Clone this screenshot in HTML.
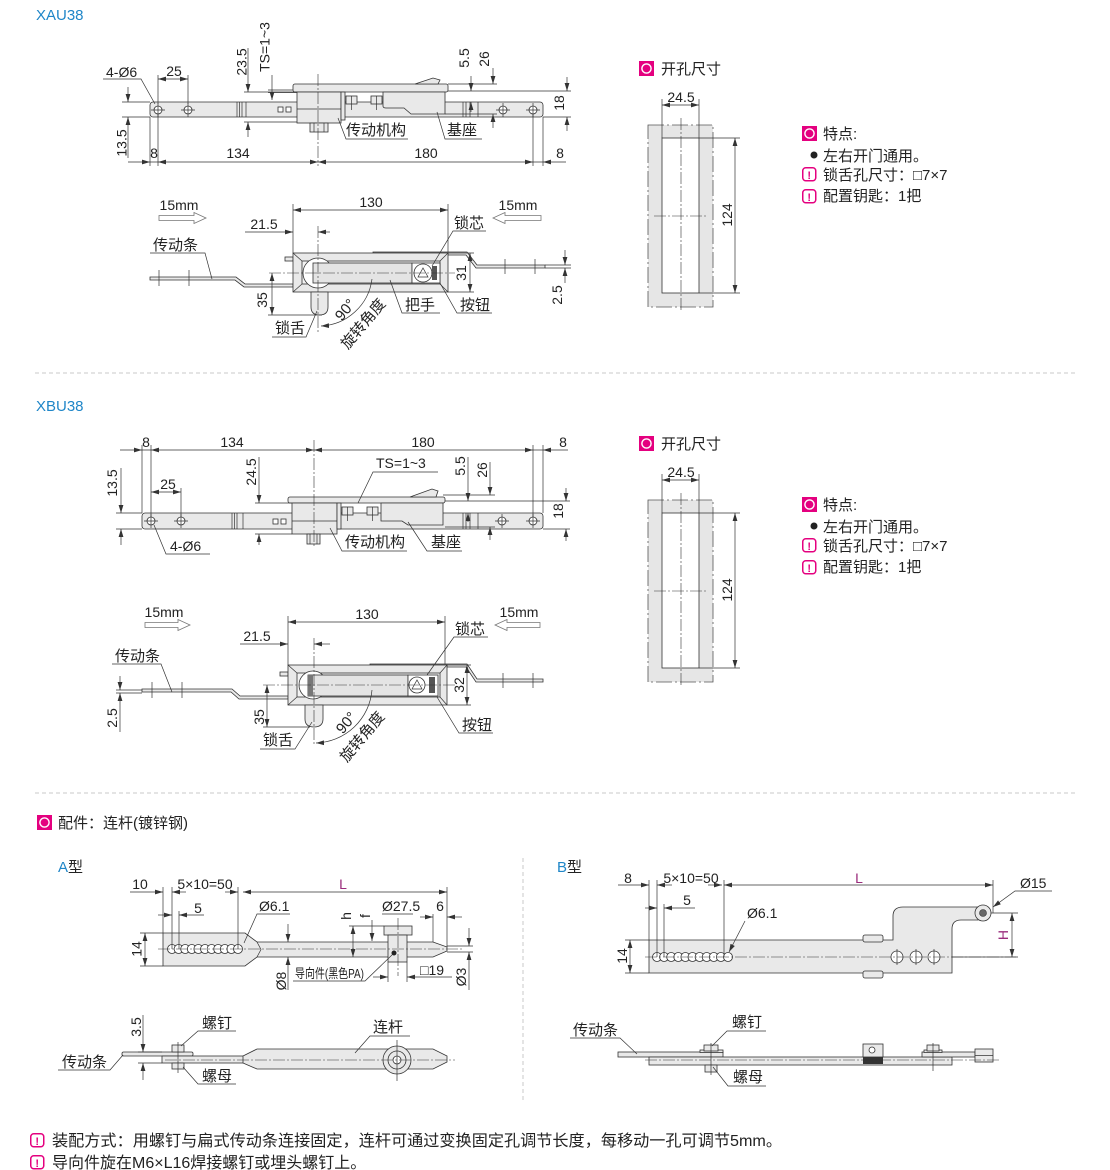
<!DOCTYPE html>
<html><head><meta charset="utf-8">
<style>
html,body{margin:0;padding:0;background:#fff}
svg{display:block}
text{font-family:"Liberation Sans","Noto Sans CJK SC",sans-serif;fill:#222;font-size:14px}
.z{font-size:15px}
.m{text-anchor:middle}
.l{stroke:#333;stroke-width:.7;fill:none}
.o{stroke:#333;stroke-width:.8;fill:#e9e9e9}
.w{stroke:#333;stroke-width:.8;fill:#fff}
.c{stroke:#333;stroke-width:.6;fill:none;stroke-dasharray:12 2 2 2}
.a{marker-end:url(#ar)}
.b{marker-start:url(#ar);marker-end:url(#ar)}
.sep{stroke:#c8c8c8;stroke-width:1;fill:none;stroke-dasharray:4 3}
.pl{fill:#9a2c7c}
.ha{fill:#fff;stroke:#777;stroke-width:.8}
</style></head><body>
<svg width="1110" height="1170" viewBox="0 0 1110 1170" xmlns="http://www.w3.org/2000/svg">
<defs>
<marker id="ar" markerUnits="userSpaceOnUse" viewBox="0 0 8 6" markerWidth="8" markerHeight="6" refX="8" refY="3" orient="auto-start-reverse"><path d="M0,0.6L8,3L0,5.4z" fill="#333"/></marker>
</defs>

<!-- ===================== SECTION 1 : XAU38 ===================== -->
<text x="36" y="20" style="font-size:15px;fill:#1f86c8">XAU38</text>

<!-- top view -->
<rect x="150" y="102" width="393" height="15" rx="3" class="o"/>
<path class="l" d="M237,102v15M239.5,102v15M242,102v15M246,102v15M463,102v15M466,102v15M470,102v15M478,102v15"/>
<rect x="278" y="107" width="5" height="5" class="w"/><rect x="286" y="107" width="5" height="5" class="w"/>
<circle cx="158" cy="110" r="4" class="w"/><path class="l" d="M151,110h14M158,103v14"/>
<circle cx="188" cy="110" r="4" class="w"/><path class="l" d="M181,110h14M188,103v14"/>
<circle cx="503" cy="110" r="4" class="w"/><path class="l" d="M496,110h14M503,103v14"/>
<circle cx="533" cy="110" r="4" class="w"/><path class="l" d="M526,110h14M533,103v14"/>
<path class="l" d="M268,90H297M268,92.5H297"/>
<rect x="293" y="84" width="155" height="8" rx="2" class="o"/>
<path class="o" d="M415,84L433,78L440,80L438,84Z"/>
<path class="o" d="M383,92V106Q383,108 386,108H404L411,114H445V92Z"/>
<rect x="297" y="92" width="44" height="31" class="o"/>
<path class="l" d="M297,109H341"/>
<rect x="341" y="92" width="4" height="28" class="o"/>
<rect x="346" y="96" width="11" height="8" class="o"/><rect x="371" y="96" width="11" height="8" class="o"/>
<path class="l" d="M351.5,96v14M376.5,96v14"/>
<rect x="310" y="123" width="18" height="9" class="o"/>
<path class="l" d="M314,123v9M324,123v9"/>
<path class="c" d="M318,74V166"/>
<!-- dims -->
<path class="l" d="M150,117V166M158,114V166M533,114V166M543,117V166"/>
<path class="l a" d="M128,162H150"/>
<path class="l b" d="M158,162H318"/>
<path class="l b" d="M318,162H533"/>
<path class="l a" d="M566,162H543"/>
<path class="l" d="M150,162H158M533,162H543"/>
<text class="m" x="154" y="158">8</text>
<text class="m" x="238" y="158">134</text>
<text class="m" x="426" y="158">180</text>
<text class="m" x="560" y="158">8</text>
<path class="l" d="M122,102H150M122,117H150"/>
<path class="l a" d="M128,87V102"/><path class="l a" d="M128,158V117"/>
<text class="m" transform="translate(126.5,143) rotate(-90)">13.5</text>
<text x="106" y="77">4-Ø6</text>
<path class="l" d="M103,79H141L155,104"/>
<text class="m" x="174" y="76">25</text>
<path class="l" d="M158,75V104M188,75V104"/>
<path class="l b" d="M158,79H188"/>
<path class="l" d="M244,92H297M244,122H297"/>
<path class="l a" d="M248,48V92"/><path class="l a" d="M248,137V122"/>
<text class="m" transform="translate(246.5,62) rotate(-90)">23.5</text>
<path class="l a" d="M272,75V100"/>
<text class="m" transform="translate(269.5,47) rotate(-90)">TS=1~3</text>
<path class="l" d="M448,84H497M445,114H497M448,91H571M543,117H571"/>
<path class="l a" d="M471,76V91"/><path class="l a" d="M471,112V102"/>
<text class="m" transform="translate(469,58) rotate(-90)">5.5</text>
<path class="l a" d="M493,68V84"/><path class="l a" d="M493,128V114"/>
<text class="m" transform="translate(489,59) rotate(-90)">26</text>
<path class="l a" d="M567,77V91"/><path class="l a" d="M567,131V117"/>
<text class="m" transform="translate(564,103) rotate(-90)">18</text>
<text class="z" x="346" y="135">传动机构</text>
<path class="l" d="M338,118L346,139H408"/>
<text class="z" x="447" y="135">基座</text>
<path class="l" d="M437,112L445,139H482"/>

<!-- front view -->
<path d="M159,215.5H194V212.5L206,218L194,223.5V220.5H159Z" class="ha"/>
<path d="M541,215.5H505V212.5L493,218L505,223.5V220.5H541Z" class="ha"/>
<text class="m" x="179" y="210">15mm</text>
<text class="m" x="518" y="210">15mm</text>
<path class="l" d="M293,204V253M448,204V253"/>
<path class="l b" d="M293,210H448"/>
<text class="m" x="371" y="207">130</text>
<path class="l a" d="M245,232H293"/><path class="l a" d="M330,232H318"/>
<text class="m" x="264" y="229">21.5</text>
<path class="o" d="M150,277H236L245,284H293V287H244L235,280H150Z"/>
<path class="l" d="M159,270v16M189,270v16"/>
<rect x="285" y="257" width="8" height="4" class="o"/>
<path class="o" d="M373,252H467L477,265H545V268H476L466,255H448V253H373Z"/>
<path class="l" d="M505,259v15M535,259v15"/>
<rect x="293" y="253" width="155" height="39" class="o"/>
<rect x="302" y="261" width="138" height="23" fill="#f3f3f3" stroke="#333" stroke-width=".8"/>
<path class="l" d="M293,253L302,261M448,253L440,261M293,292L302,284M448,292L440,284"/>
<circle cx="318" cy="273" r="15" class="w"/>
<rect x="313" y="263" width="99" height="20" fill="#e4e4e4" stroke="#333" stroke-width=".8"/>
<rect x="412" y="263" width="28" height="20" class="w"/>
<circle cx="423" cy="273" r="9" class="w"/>
<path class="l" d="M418,277L423,268L428,277Z"/>
<rect x="432" y="266" width="5" height="14" fill="#555"/>
<path class="o" d="M311,292V307Q311,315 319.5,315Q328,315 328,307V292Z"/>
<path class="c" d="M269,273H455M318,226V332"/>
<path class="l" d="M448,253H474M448,292H474"/>
<path class="l b" d="M470,253V292"/>
<text class="m" transform="translate(466,273) rotate(-90)">31</text>
<path class="l" d="M268,315H322"/>
<path class="l b" d="M272,273V315"/>
<text class="m" transform="translate(267,300) rotate(-90)">35</text>
<path class="l" d="M545,265H571M545,268H571"/>
<path class="l a" d="M565,250V265"/><path class="l a" d="M565,283V268"/>
<text class="m" transform="translate(562,295) rotate(-90)">2.5</text>
<text class="z" x="153" y="250">传动条</text>
<path class="l" d="M150,253H205L212,279"/>
<text class="z" x="454" y="228">锁芯</text>
<path class="l" d="M486,231H453L432,266"/>
<text class="z" x="405" y="310">把手</text>
<path class="l" d="M390,280L402,313H440"/>
<text class="z" x="460" y="310">按钮</text>
<path class="l" d="M440,283L457,313H492"/>
<text class="z" x="275" y="333">锁舌</text>
<path class="l" d="M272,337H306L317,311"/>
<path class="l a" d="M372,279A54,54 0 0,1 321,326"/>
<text class="z m" transform="translate(349,313) rotate(-50)">90°</text>
<text class="z m" transform="translate(367,327) rotate(-50)">旋转角度</text>

<!-- cutout 1 -->
<g>
<rect x="639" y="61" width="15" height="15" fill="#e4007f"/><circle cx="646.5" cy="68.5" r="4.6" fill="none" stroke="#fff" stroke-width="1.4"/>
<text class="z" x="661" y="74">开孔尺寸</text>
<rect x="648" y="125" width="65" height="182" fill="#e6e6e6" stroke="#555" stroke-width=".8" stroke-dasharray="16 3 2 3"/>
<rect x="662" y="138" width="37" height="155" class="w"/>
<path class="c" d="M681,118V312M654,216H708"/>
<path class="l" d="M662,99V138M699,99V138"/>
<path class="l b" d="M662,105H699"/>
<text class="m" x="681" y="102">24.5</text>
<path class="l" d="M699,138H740M699,293H740"/>
<path class="l b" d="M735,138V293"/>
<text class="m" transform="translate(732,215) rotate(-90)">124</text>
</g>
<g>
<rect x="802" y="126" width="15" height="15" fill="#e4007f"/><circle cx="809.5" cy="133.5" r="4.6" fill="none" stroke="#fff" stroke-width="1.4"/>
<text class="z" x="823" y="139">特点:</text>
<circle cx="814" cy="155" r="3.5" fill="#222"/>
<text class="z" x="823" y="161">左右开门通用。</text>
<rect x="802.75" y="167.75" width="13" height="13" rx="3" fill="#fff" stroke="#e4007f" stroke-width="1.5"/>
<text x="809.25" y="179" class="m" style="font-size:11px;font-weight:bold;fill:#e4007f">!</text>
<text class="z" x="823" y="180">锁舌孔尺寸：□7×7</text>
<rect x="802.75" y="189.75" width="13" height="13" rx="3" fill="#fff" stroke="#e4007f" stroke-width="1.5"/>
<text x="809.25" y="201" class="m" style="font-size:11px;font-weight:bold;fill:#e4007f">!</text>
<text class="z" x="823" y="201">配置钥匙：1把</text>
</g>

<path class="sep" d="M35,373H1078"/>

<!-- ===================== SECTION 2 : XBU38 ===================== -->
<text x="36" y="411" style="font-size:15px;fill:#1f86c8">XBU38</text>

<!-- top view -->
<rect x="142" y="513" width="401" height="16" rx="3" class="o"/>
<path class="l" d="M232,513v16M234.5,513v16M237,513v16M243,513v16M463,513v16M466,513v16M470,513v16M478,513v16"/>
<rect x="273" y="519" width="5" height="5" class="w"/><rect x="281" y="519" width="5" height="5" class="w"/>
<circle cx="151" cy="521" r="4" class="w"/><path class="l" d="M144,521h14M151,514v14"/>
<circle cx="181" cy="521" r="4" class="w"/><path class="l" d="M174,521h14M181,514v14"/>
<circle cx="502" cy="521" r="4" class="w"/><path class="l" d="M495,521h14M502,514v14"/>
<circle cx="533" cy="521" r="4" class="w"/><path class="l" d="M526,521h14M533,514v14"/>
<rect x="288" y="497" width="157" height="6" rx="2" class="o"/>
<path class="o" d="M410,497L432,489L438,491L436,497Z"/>
<path class="o" d="M381,503V521H402L408,525H443V503Z"/>
<rect x="292" y="503" width="45" height="31" class="o"/>
<path class="l" d="M292,521H337"/>
<rect x="337" y="503" width="4" height="26" class="o"/>
<rect x="342" y="507" width="11" height="8" class="o"/><rect x="367" y="507" width="11" height="8" class="o"/>
<path class="l" d="M347.5,507v14M372.5,507v14"/>
<rect x="307" y="534" width="13" height="10" class="o"/>
<path class="l" d="M310,534v10M317,534v10"/>
<path class="c" d="M314,440V548"/>
<!-- dims -->
<path class="l" d="M142,445V513M151,445V517M533,445V517M543,445V513"/>
<path class="l a" d="M120,450H142"/>
<path class="l b" d="M151,450H314"/>
<path class="l b" d="M314,450H533"/>
<path class="l a" d="M568,450H543"/>
<path class="l" d="M142,450H151M533,450H543"/>
<text class="m" x="146" y="447">8</text>
<text class="m" x="232" y="447">134</text>
<text class="m" x="423" y="447">180</text>
<text class="m" x="563" y="447">8</text>
<path class="l" d="M116,513H142M116,529H142"/>
<path class="l a" d="M121,468V513"/><path class="l a" d="M121,545V529"/>
<text class="m" transform="translate(117,483) rotate(-90)">13.5</text>
<path class="l" d="M181,488V517"/>
<path class="l b" d="M151,492H181"/>
<text class="m" x="168" y="489">25</text>
<text x="170" y="551">4-Ø6</text>
<path class="l" d="M210,554H166L154,525"/>
<path class="l" d="M255,503H292M255,534H292"/>
<path class="l a" d="M259,457V503"/><path class="l a" d="M259,545V534"/>
<text class="m" transform="translate(256,472) rotate(-90)">24.5</text>
<text x="376" y="468">TS=1~3</text>
<path class="l" d="M438,472H373L358,503"/>
<path class="l" d="M443,495H495M445,527H495M445,501H570M543,529H570"/>
<path class="l a" d="M468,457V501"/><path class="l a" d="M468,522V513"/>
<text class="m" transform="translate(465,466) rotate(-90)">5.5</text>
<path class="l a" d="M490,462V495"/><path class="l a" d="M490,540V527"/>
<text class="m" transform="translate(487,470) rotate(-90)">26</text>
<path class="l a" d="M566,488V501"/><path class="l a" d="M566,541V529"/>
<text class="m" transform="translate(563,511) rotate(-90)">18</text>
<text class="z" x="345" y="547">传动机构</text>
<path class="l" d="M330,528L342,551H407"/>
<text class="z" x="431" y="547">基座</text>
<path class="l" d="M408,522L427,551H462"/>

<!-- front view -->
<path d="M145,622.5H178V619.5L190,625L178,630.5V627.5H145Z" class="ha"/>
<path d="M540,622.5H507V619.5L495,625L507,630.5V627.5H540Z" class="ha"/>
<text class="m" x="164" y="617">15mm</text>
<text class="m" x="519" y="617">15mm</text>
<path class="l" d="M288,616V665M445,616V665"/>
<path class="l b" d="M288,622H445"/>
<text class="m" x="367" y="619">130</text>
<path class="l a" d="M240,644H288"/><path class="l a" d="M330,644H314"/>
<text class="m" x="257" y="641">21.5</text>
<path class="o" d="M142,689H232L240,696H288V699H239L231,692H142Z"/>
<path class="l" d="M152,682v16M182,682v16"/>
<rect x="280" y="672" width="8" height="4" class="o"/>
<path class="o" d="M370,664H467L477,679H543V682H476L466,667H447V665H370Z"/>
<path class="l" d="M503,673v15M533,673v15"/>
<rect x="288" y="665" width="159" height="40" class="o"/>
<rect x="297" y="673" width="143" height="24" fill="#f3f3f3" stroke="#333" stroke-width=".8"/>
<path class="l" d="M288,665L297,673M447,665L440,673M288,705L297,697M447,705L440,697"/>
<circle cx="313" cy="685" r="14" class="w"/>
<rect x="308" y="675" width="100" height="21" fill="#e4e4e4" stroke="#333" stroke-width=".8"/>
<rect x="308" y="675" width="5" height="21" fill="#777"/>
<rect x="408" y="675" width="30" height="21" class="w"/>
<circle cx="417" cy="685" r="8" class="w"/>
<path class="l" d="M412,689L417,680L422,689Z"/>
<rect x="429" y="677" width="6" height="16" fill="#555"/>
<path class="o" d="M305,705V719Q305,727 314,727Q323,727 323,719V705Z"/>
<path class="c" d="M263,685H455M314,638V745"/>
<path class="l" d="M447,665H471M447,705H471"/>
<path class="l b" d="M467,665V705"/>
<text class="m" transform="translate(464,685) rotate(-90)">32</text>
<path class="l" d="M263,727H310"/>
<path class="l b" d="M267,685V727"/>
<text class="m" transform="translate(264,717) rotate(-90)">35</text>
<path class="l" d="M116,690H142M116,693H142"/>
<path class="l a" d="M120,676V690"/><path class="l a" d="M120,732V693"/>
<text class="m" transform="translate(117,718) rotate(-90)">2.5</text>
<text class="z" x="115" y="661">传动条</text>
<path class="l" d="M112,664H161L172,692"/>
<text class="z" x="455" y="634">锁芯</text>
<path class="l" d="M488,637H454L427,675"/>
<text class="z" x="462" y="730">按钮</text>
<path class="l" d="M437,697L459,733H493"/>
<text class="z" x="263" y="745">锁舌</text>
<path class="l" d="M260,749H295L312,722"/>
<path class="l a" d="M372,690A58,58 0 0,1 316,743"/>
<text class="z m" transform="translate(350,726) rotate(-50)">90°</text>
<text class="z m" transform="translate(366,740) rotate(-50)">旋转角度</text>

<!-- cutout 2 -->
<g transform="translate(0,375)">
<rect x="639" y="61" width="15" height="15" fill="#e4007f"/><circle cx="646.5" cy="68.5" r="4.6" fill="none" stroke="#fff" stroke-width="1.4"/>
<text class="z" x="661" y="74">开孔尺寸</text>
<rect x="648" y="125" width="65" height="182" fill="#e6e6e6" stroke="#555" stroke-width=".8" stroke-dasharray="16 3 2 3"/>
<rect x="662" y="138" width="37" height="155" class="w"/>
<path class="c" d="M681,118V312M654,216H708"/>
<path class="l" d="M662,99V138M699,99V138"/>
<path class="l b" d="M662,105H699"/>
<text class="m" x="681" y="102">24.5</text>
<path class="l" d="M699,138H740M699,293H740"/>
<path class="l b" d="M735,138V293"/>
<text class="m" transform="translate(732,215) rotate(-90)">124</text>
</g>
<g transform="translate(0,371)">
<rect x="802" y="126" width="15" height="15" fill="#e4007f"/><circle cx="809.5" cy="133.5" r="4.6" fill="none" stroke="#fff" stroke-width="1.4"/>
<text class="z" x="823" y="139">特点:</text>
<circle cx="814" cy="155" r="3.5" fill="#222"/>
<text class="z" x="823" y="161">左右开门通用。</text>
<rect x="802.75" y="167.75" width="13" height="13" rx="3" fill="#fff" stroke="#e4007f" stroke-width="1.5"/>
<text x="809.25" y="179" class="m" style="font-size:11px;font-weight:bold;fill:#e4007f">!</text>
<text class="z" x="823" y="180">锁舌孔尺寸：□7×7</text>
<rect x="802.75" y="189.75" width="13" height="13" rx="3" fill="#fff" stroke="#e4007f" stroke-width="1.5"/>
<text x="809.25" y="201" class="m" style="font-size:11px;font-weight:bold;fill:#e4007f">!</text>
<text class="z" x="823" y="201">配置钥匙：1把</text>
</g>

<path class="sep" d="M35,793H1078"/>

<!-- ===================== SECTION 3 : accessories ===================== -->
<rect x="37" y="815" width="15" height="15" fill="#e4007f"/><circle cx="44.5" cy="822.5" r="4.6" fill="none" stroke="#fff" stroke-width="1.4"/>
<text class="z" x="58" y="828">配件：连杆(镀锌钢)</text>
<path class="sep" d="M523,858V1100"/>

<text x="58" y="872" class="z"><tspan style="fill:#1f86c8">A</tspan>型</text>
<text x="557" y="872" class="z"><tspan style="fill:#1f86c8">B</tspan>型</text>

<!-- A type plan -->
<path class="o" d="M163,933H245L257,942H433L447,947V951L433,957H257L245,966H163Z"/>
<path class="l" d="M257,942L261,949.5L257,957"/>
<g class="w">
<circle cx="172" cy="949" r="4.5"/><circle cx="178.6" cy="949" r="4.5"/><circle cx="185.2" cy="949" r="4.5"/><circle cx="191.8" cy="949" r="4.5"/><circle cx="198.4" cy="949" r="4.5"/><circle cx="205" cy="949" r="4.5"/><circle cx="211.6" cy="949" r="4.5"/><circle cx="218.2" cy="949" r="4.5"/><circle cx="224.8" cy="949" r="4.5"/><circle cx="231.4" cy="949" r="4.5"/><circle cx="238" cy="949" r="4.5"/>
</g>
<rect x="384" y="926" width="28" height="9" class="o"/>
<rect x="388" y="935" width="19" height="27" class="o"/>
<circle cx="394" cy="953" r="2.5" fill="#222"/>
<path class="c" d="M158,949H462M398,918V976"/>
<path class="l" d="M388,962V982M407,962V982"/>
<!-- A dims -->
<path class="l" d="M163,887V933M172,887V949M179,911V949M238,887V949M447,887V947"/>
<path class="l a" d="M130,892H163"/>
<path class="l a" d="M186,892H172"/>
<path class="l a" d="M225,892H238"/>
<path class="l b" d="M243,892H447"/>
<text class="m" x="140" y="889">10</text>
<text class="m" x="205" y="889">5×10=50</text>
<text class="m pl" x="343" y="889">L</text>
<path class="l a" d="M158,915H172"/><path class="l a" d="M204,915H179"/>
<text class="m" x="198" y="913">5</text>
<text x="259" y="911">Ø6.1</text>
<path class="l" d="M290,914H257L244,943"/>
<path class="l" d="M140,933H163M140,966H163"/>
<path class="l b" d="M145,933V966"/>
<text class="m" transform="translate(141.5,949) rotate(-90)">14</text>
<path class="l a" d="M288,924V942"/><path class="l a" d="M288,990V957"/>
<text class="m" transform="translate(286,981) rotate(-90)">Ø8</text>
<path class="l" d="M349,926H384"/>
<path class="l b" d="M353,926V957"/>
<text class="m" transform="translate(351,916) rotate(-90)">h</text>
<path class="l a" d="M372,920V941"/>
<text class="m" transform="translate(370,916) rotate(-90)">f</text>
<text x="382" y="911">Ø27.5</text>
<path class="l" d="M382,914H413"/>
<path class="l" d="M433,914V942"/>
<path class="l a" d="M420,917H433"/><path class="l a" d="M462,917H447"/>
<text class="m" x="440" y="911">6</text>
<text x="295" y="978" textLength="69" lengthAdjust="spacingAndGlyphs" style="font-size:13px">导向件(黑色PA)</text>
<path class="l" d="M293,981H365L393,954"/>
<path class="l a" d="M373,977H388"/><path class="l a" d="M452,977H407"/>
<text x="420" y="975">□19</text>
<path class="l" d="M447,946H473M447,952H473"/>
<path class="l a" d="M469,928V946"/><path class="l a" d="M469,990V952"/>
<text class="m" transform="translate(466,977) rotate(-90)">Ø3</text>

<!-- A type side -->
<rect x="122" y="1052" width="71" height="4" rx="1.5" class="o"/>
<rect x="162" y="1056" width="82" height="7" class="o"/>
<path class="o" d="M243,1056L257,1049H433L447,1056V1062L433,1069H257L243,1063Z"/>
<circle cx="397" cy="1060" r="14" class="o"/><circle cx="397" cy="1060" r="9" class="o"/><circle cx="397" cy="1060" r="4" class="w"/>
<rect x="172" y="1045" width="12" height="7" class="o"/><rect x="172" y="1063" width="12" height="6" class="o"/>
<path class="l" d="M178,1042V1073M397,1040V1081"/>
<path class="c" d="M165,1060H455"/>
<path class="l" d="M138,1052H162M138,1063H162"/>
<path class="l a" d="M143,1015V1052"/><path class="l a" d="M143,1080V1063"/>
<text class="m" transform="translate(141,1027) rotate(-90)">3.5</text>
<text class="z" x="202" y="1028">螺钉</text>
<path class="l" d="M236,1031H198L181,1046"/>
<text class="z" x="373" y="1032">连杆</text>
<path class="l" d="M410,1036H370L355,1053"/>
<text class="z" x="62" y="1067">传动条</text>
<path class="l" d="M58,1070H110L123,1055"/>
<text class="z" x="202" y="1081">螺母</text>
<path class="l" d="M236,1084H198L183,1067"/>

<!-- B type plan -->
<path class="o" d="M649,940H893V916Q893,907 903,907H978V920H961Q952,920 952,929V973H649Z"/>
<circle cx="983" cy="913" r="8" class="o"/><circle cx="983" cy="913" r="3.5" fill="#666" stroke="#333" stroke-width=".6"/>
<rect x="863" y="935" width="20" height="7" rx="2" class="o"/>
<rect x="863" y="971" width="20" height="7" rx="2" class="o"/>
<g class="w">
<circle cx="657" cy="957" r="4.5"/><circle cx="664.1" cy="957" r="4.5"/><circle cx="671.2" cy="957" r="4.5"/><circle cx="678.3" cy="957" r="4.5"/><circle cx="685.4" cy="957" r="4.5"/><circle cx="692.5" cy="957" r="4.5"/><circle cx="699.6" cy="957" r="4.5"/><circle cx="706.7" cy="957" r="4.5"/><circle cx="713.8" cy="957" r="4.5"/><circle cx="720.9" cy="957" r="4.5"/><circle cx="728" cy="957" r="4.5"/>
</g>
<circle cx="897" cy="957" r="6" class="w"/><circle cx="916" cy="957" r="6" class="w"/><circle cx="934" cy="957" r="6" class="w"/>
<path class="l" d="M897,949v16M916,949v16M934,949v16"/>
<path class="c" d="M645,957H1016"/>
<!-- B dims -->
<path class="l" d="M649,880V940M657,880V957M664,904V957M724,880V957M993,880V913"/>
<path class="l a" d="M618,885H649"/>
<path class="l a" d="M672,885H657"/>
<path class="l a" d="M708,885H722"/>
<path class="l b" d="M724,885H993"/>
<text class="m" x="628" y="883">8</text>
<text class="m" x="691" y="883">5×10=50</text>
<text class="m pl" x="859" y="883">L</text>
<path class="l a" d="M645,908H657"/><path class="l a" d="M695,908H664"/>
<text class="m" x="687" y="905">5</text>
<text x="747" y="918">Ø6.1</text>
<path class="l a" d="M745,921L729,952"/>
<path class="l" d="M625,940H649M625,973H649"/>
<path class="l b" d="M630,940V973"/>
<text class="m" transform="translate(627,956) rotate(-90)">14</text>
<text x="1020" y="888">Ø15</text>
<path class="l a" d="M1052,891H1015L993,907"/>
<path class="l" d="M991,913H1018M952,957H1018"/>
<path class="l b" d="M1012,913V957"/>
<text class="m pl" transform="translate(1008,935) rotate(-90)">H</text>

<!-- B type side -->
<rect x="618" y="1052" width="105" height="5" class="o"/>
<rect x="649" y="1057" width="303" height="8" class="o"/>
<rect x="922" y="1052" width="53" height="5" class="o"/>
<rect x="975" y="1049" width="18" height="13" class="o"/>
<path class="l" d="M975,1055.5H993"/>
<rect x="700" y="1050" width="23" height="2.5" class="o"/>
<rect x="704" y="1045" width="14" height="6" class="o"/>
<rect x="705" y="1065" width="12" height="7" class="o"/>
<path class="l" d="M711,1043V1075"/>
<rect x="863" y="1044" width="20" height="13" class="o"/>
<circle cx="872" cy="1050" r="3" class="w"/>
<rect x="863" y="1057" width="20" height="7" fill="#333"/>
<rect x="924" y="1050" width="18" height="2.5" class="o"/>
<rect x="927" y="1045" width="12" height="6" class="o"/>
<path class="l" d="M933,1043V1071"/>
<path class="c" d="M645,1060H1000"/>
<text class="z" x="573" y="1035">传动条</text>
<path class="l" d="M570,1038H620L637,1054"/>
<text class="z" x="732" y="1027">螺钉</text>
<path class="l" d="M766,1031H727L712,1046"/>
<text class="z" x="733" y="1082">螺母</text>
<path class="l" d="M766,1086H728L713,1067"/>

<!-- notes -->
<rect x="30.75" y="1133.75" width="13" height="13" rx="3" fill="#fff" stroke="#e4007f" stroke-width="1.5"/>
<text x="37.25" y="1145" class="m" style="font-size:11px;font-weight:bold;fill:#e4007f">!</text>
<text x="52" y="1146" textLength="730" lengthAdjust="spacingAndGlyphs" style="font-size:16px">装配方式：用螺钉与扁式传动条连接固定，连杆可通过变换固定孔调节长度，每移动一孔可调节5mm。</text>
<rect x="30.75" y="1155.75" width="13" height="13" rx="3" fill="#fff" stroke="#e4007f" stroke-width="1.5"/>
<text x="37.25" y="1167" class="m" style="font-size:11px;font-weight:bold;fill:#e4007f">!</text>
<text x="52" y="1168" style="font-size:16px">导向件旋在M6×L16焊接螺钉或埋头螺钉上。</text>
</svg>
</body></html>
